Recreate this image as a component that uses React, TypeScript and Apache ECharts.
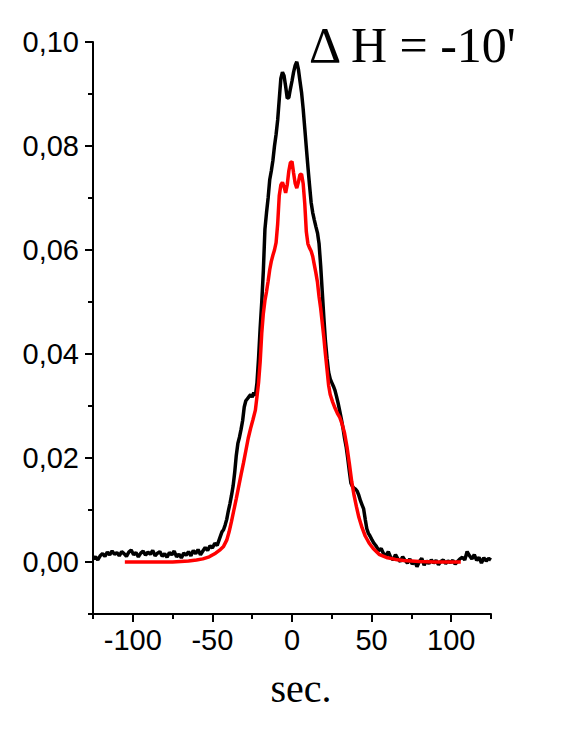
import { useEffect, useRef } from "react";
import * as echarts from "echarts";

// Measured signal (black)
const measuredX = [
  -125, -123.5, -122, -120.5, -119, -117.5, -116, -114.5, -113, -111.5, -110, -108.5, -107, -105.5, -104, -102.5, -101, -99.5, -98, -96.5,
  -95, -93.5, -92, -90.5, -89, -87.5, -86, -84.5, -83, -81.5, -80, -78.5, -77, -75.5, -74, -72.5, -71, -69.5, -68, -66.5,
  -65, -63.5, -62, -60.5, -59, -57.5, -56, -54.5, -53, -51.5, -50, -48.5, -47, -45.5, -44, -43, -42, -41, -40, -39,
  -38, -37, -36, -35, -34, -33, -32, -31, -30, -29, -28, -27, -26, -25, -24, -23, -22, -21, -20, -19,
  -18, -17, -16, -15, -14, -13, -12, -11, -10, -9, -8, -7, -6, -5, -4, -3, -2, -1, 0, 1,
  2, 3, 4, 5, 6, 7, 8, 9, 10, 11, 12, 13, 14, 15, 16, 17, 18, 19, 20, 21,
  22, 23, 24, 25, 26, 27, 28, 29, 30, 31, 32, 33, 34, 35, 36, 37, 38, 39, 40, 41,
  42, 43, 44, 45, 46, 47, 48, 49, 50, 51.5, 53, 54.5, 56, 57.5, 59, 60.5, 62, 63.5, 65, 66.5,
  68, 69.5, 71, 72.5, 74, 75.5, 77, 78.5, 80, 81.5, 83, 84.5, 86, 87.5, 89, 90.5, 92, 93.5, 95, 96.5,
  98, 99.5, 101, 102.5, 104, 105.5, 107, 108.5, 110, 111.5, 113, 114.5, 116, 117.5, 119, 120.5, 122, 123.5, 125,
];
const measuredY = [
  0.0006, 0.0010, 0.0004, 0.0012, 0.0016, 0.0011, 0.0019, 0.0014, 0.0021, 0.0015, 0.0018, 0.0012, 0.0020, 0.0016, 0.0011, 0.0019, 0.0023, 0.0014, 0.0018, 0.0010,
  0.0017, 0.0021, 0.0013, 0.0019, 0.0015, 0.0022, 0.0012, 0.0017, 0.0020, 0.0011, 0.0016, 0.0009, 0.0018, 0.0014, 0.0021, 0.0010, 0.0015, 0.0008, 0.0017, 0.0013,
  0.0020, 0.0012, 0.0022, 0.0016, 0.0024, 0.0014, 0.0021, 0.0028, 0.0022, 0.0031, 0.0027, 0.0036, 0.0032, 0.0045, 0.0058, 0.0062, 0.0071, 0.0082, 0.0098, 0.0112,
  0.0128, 0.0146, 0.0172, 0.0205, 0.0228, 0.0240, 0.0255, 0.0272, 0.0298, 0.0310, 0.0314, 0.0318, 0.0322, 0.0317, 0.0326, 0.0320, 0.0345, 0.0392, 0.0450, 0.0500,
  0.0560, 0.0640, 0.0672, 0.0700, 0.0735, 0.0752, 0.0772, 0.0800, 0.0822, 0.0850, 0.0890, 0.0930, 0.0942, 0.0935, 0.0915, 0.0892, 0.0893, 0.0910, 0.0925, 0.0942,
  0.0955, 0.0962, 0.0948, 0.0925, 0.0903, 0.0872, 0.0835, 0.0797, 0.0760, 0.0725, 0.0692, 0.0672, 0.0658, 0.0645, 0.0633, 0.0612, 0.0570, 0.0520, 0.0470, 0.0425,
  0.0392, 0.0365, 0.0352, 0.0345, 0.0338, 0.0330, 0.0318, 0.0305, 0.0290, 0.0275, 0.0258, 0.0238, 0.0222, 0.0200, 0.0175, 0.0152, 0.0145, 0.0142, 0.0140, 0.0136,
  0.0128, 0.0118, 0.0110, 0.0102, 0.0082, 0.0064, 0.0055, 0.0050, 0.0044, 0.0036, 0.0030, 0.0022, 0.0026, 0.0016, 0.0012, 0.0020, 0.0009, 0.0004, 0.0014, 0.0006,
  0.0001, 0.0010, 0.0003, -0.0002, 0.0006, -0.0004, 0.0002, -0.0009, 0.0001, 0.0007, -0.0006, 0.0002, -0.0003, 0.0004, -0.0002, 0.0003, -0.0005, 0.0001, 0.0004, -0.0003,
  0.0002, -0.0001, 0.0003, -0.0004, 0.0001, 0.0006, 0.0009, 0.0004, 0.0020, 0.0012, 0.0006, 0.0014, 0.0003, 0.0009, -0.0002, 0.0008, 0.0002, 0.0007, 0.0004,
];

// Fitted curve (red)
const fitX = [
  -105, -95, -85, -75, -70, -65, -60, -56, -52, -48, -45, -43, -41, -39.5, -38, -36.5, -35, -33.5, -32, -30.5,
  -29, -27.5, -26, -24.5, -23, -22, -21, -20, -19, -18, -17, -16, -15, -14, -13, -12, -11, -10, -9, -8,
  -7, -6, -5, -4, -3, -2, -1, 0, 1, 2, 3, 4, 5, 6, 7, 8, 9, 10, 11, 12,
  13, 14, 15, 16, 17, 18, 19, 20, 21, 22, 23, 24, 25.5, 27, 28.5, 30, 31.5, 33, 34.5, 36,
  37.5, 39, 40.5, 42, 44, 46, 48.5, 51, 55, 60, 65, 70, 80, 90, 106,
];
const fitY = [
  0, 0, 0, 0, 0.0001, 0.0002, 0.0004, 0.0006, 0.0010, 0.0017, 0.0024, 0.0030, 0.0042, 0.0058, 0.0078, 0.0100, 0.0122, 0.0145, 0.0168, 0.0190,
  0.0214, 0.0238, 0.0257, 0.0274, 0.0292, 0.0318, 0.0345, 0.0385, 0.0440, 0.0478, 0.0503, 0.0520, 0.0540, 0.0562, 0.0578, 0.0590, 0.0600, 0.0614, 0.0650, 0.0705,
  0.0725, 0.0730, 0.0722, 0.0710, 0.0725, 0.0752, 0.0768, 0.0770, 0.0748, 0.0728, 0.0719, 0.0730, 0.0745, 0.0746, 0.0728, 0.0690, 0.0635, 0.0612, 0.0604, 0.0598,
  0.0588, 0.0572, 0.0556, 0.0538, 0.0510, 0.0488, 0.0460, 0.0432, 0.0400, 0.0370, 0.0340, 0.0322, 0.0308, 0.0296, 0.0286, 0.0278, 0.0265, 0.0248, 0.0222, 0.0190,
  0.0155, 0.0128, 0.0106, 0.0086, 0.0066, 0.0050, 0.0036, 0.0026, 0.0014, 0.0008, 0.0005, 0.0003, 0.0001, 0, 0,
];

const xMajorTicks = [-100, -50, 0, 50, 100];
const yMajorTicks = [0, 0.02, 0.04, 0.06, 0.08, 0.1];
const titleText = "\u0394 H = -10'";
const xAxisTitle = "sec.";

export default function App() {
  const ref = useRef<HTMLDivElement>(null);

  useEffect(() => {
    const chart = echarts.init(ref.current!, null, { renderer: "svg" });
    const black = "#000";
    const tickStyle = { color: black, width: 2 };
    const labelFont = { fontSize: 29, fontFamily: "Liberation Sans", color: black };

    chart.setOption({
      animation: false,
      backgroundColor: "#fff",
      grid: { left: 93, right: 81, top: 42, bottom: 126, containLabel: false, outerBoundsMode: "none" },
      xAxis: [
        {
          type: "value",
          min: -125,
          max: 125,
          interval: 25,
          position: "bottom",
          axisLine: { onZero: false, lineStyle: { color: black, width: 2 } },
          axisTick: { length: 5, lineStyle: tickStyle },
          axisLabel: { show: false },
          splitLine: { show: false },
        },
        {
          type: "value",
          min: -125,
          max: 125,
          position: "bottom",
          offset: 0,
          axisLine: { show: false, onZero: false },
          axisTick: { customValues: xMajorTicks, length: 8, lineStyle: tickStyle },
          axisLabel: { customValues: xMajorTicks, margin: 11, ...labelFont, formatter: (v: number) => String(Math.round(v)) },
          splitLine: { show: false },
        },
      ],
      yAxis: [
        {
          type: "value",
          min: -0.01,
          max: 0.1,
          interval: 0.01,
          position: "left",
          axisLine: { show: true, onZero: false, lineStyle: { color: black, width: 2 } },
          axisTick: { show: true, length: 5, lineStyle: tickStyle },
          axisLabel: { show: false },
          splitLine: { show: false },
        },
        {
          type: "value",
          min: -0.01,
          max: 0.1,
          position: "left",
          offset: 0,
          axisLine: { show: false, onZero: false },
          axisTick: { show: true, customValues: yMajorTicks, length: 8, lineStyle: tickStyle },
          axisLabel: {
            customValues: yMajorTicks,
            margin: 14,
            ...labelFont,
            formatter: (v: number) => v.toFixed(2).replace(".", ","),
          },
          splitLine: { show: false },
        },
      ],
      series: [
        {
          type: "line",
          xAxisIndex: 0,
          yAxisIndex: 0,
          data: measuredX.map((x, i) => [x, measuredY[i]]),
          showSymbol: false,
          lineStyle: { color: "#000", width: 3.5 },
          z: 2,
        },
        {
          type: "line",
          xAxisIndex: 0,
          yAxisIndex: 0,
          data: fitX.map((x, i) => [x, fitY[i]]),
          showSymbol: false,
          lineStyle: { color: "#ff0000", width: 3.5 },
          z: 3,
        },
      ],
      graphic: [
        {
          type: "text",
          x: 309,
          y: 45,
          style: {
            text: titleText,
            font: '50px "Liberation Serif"',
            fill: black,
            align: "left",
            verticalAlign: "middle",
            textAlign: "left",
            textVerticalAlign: "middle",
          },
        },
        {
          type: "text",
          x: 301,
          y: 688,
          style: {
            text: xAxisTitle,
            font: '40px "Liberation Serif"',
            fill: black,
            align: "center",
            verticalAlign: "middle",
            textAlign: "center",
            textVerticalAlign: "middle",
          },
        },
      ],
    });

    return () => chart.dispose();
  }, []);

  return (
    <div
      ref={ref}
      style={{ position: "absolute", left: 0, top: 0, width: 572, height: 740, background: "#fff" }}
    />
  );
}
